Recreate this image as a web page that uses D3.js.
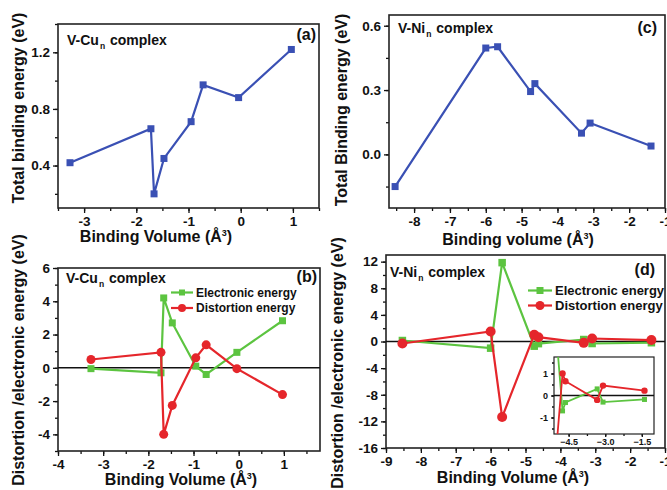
<!DOCTYPE html>
<html><head><meta charset="utf-8">
<script src="https://cdn.jsdelivr.net/npm/d3@7"></script>
<style>
body{margin:0;background:#fff;}
svg{display:block;font-family:"Liberation Sans",Arial,sans-serif;font-weight:bold;}
</style></head><body>
<svg id="c" width="667" height="490"></svg>
<script>
// ---- data ----
const cuVolume   = [-3.27, -1.72, -1.66, -1.47, -0.95, -0.72, -0.04, 0.97];
const cuTotal    = [0.42, 0.66, 0.20, 0.45, 0.71, 0.97, 0.88, 1.22];
const cuElectronic = [-0.05, -0.30, 4.20, 2.70, 0.10, -0.40, 0.93, 2.83];
const cuDistortion = [0.50, 0.93, -4.00, -2.26, 0.60, 1.38, -0.05, -1.61];

const niVolume   = [-8.53, -6.00, -5.67, -4.75, -4.63, -3.33, -3.09, -1.39];
const niTotal    = [-0.15, 0.496, 0.502, 0.293, 0.33, 0.099, 0.146, 0.039];
const niElectronic = [0.15, -1.00, 11.85, -0.70, -0.32, 0.30, -0.30, -0.18];
const niDistortion = [-0.30, 1.50, -11.35, 1.00, 0.65, -0.20, 0.45, 0.22];

const ticksA = {x:[-3,-2,-1,0,1], y:[0.4,0.8,1.2]};
const ticksB = {x:[-4,-3,-2,-1,0,1], y:[-4,-2,0,2,4,6]};
const ticksC = {x:[-8,-7,-6,-5,-4,-3,-2,-1], y:[0.0,0.3,0.6]};
const ticksD = {x:[-9,-8,-7,-6,-5,-4,-3,-2,-1], y:[-16,-12,-8,-4,0,4,8,12]};
const ticksInset = {x:[-4.5,-3.0,-1.5], y:[-1,0,1]};

const BLUE="#3a50b4", GREEN="#5cc440", RED="#e5262b";
const svg = d3.select("#c");

function frame(g, cfg){
  const x = d3.scaleLinear().domain(cfg.xd).range([cfg.x0,cfg.x1]);
  const y = d3.scaleLinear().domain(cfg.yd).range([cfg.y1,cfg.y0]);
  const fs = cfg.fs || 13.5;
  const xb = g.append("g").attr("transform",`translate(0,${cfg.y1})`)
    .call(d3.axisBottom(x).tickValues(cfg.xminor).tickSize(cfg.minorLen||3).tickFormat(""));
  const yb = g.append("g").attr("transform",`translate(${cfg.x0},0)`)
    .call(d3.axisLeft(y).tickValues(cfg.yminor).tickSize(cfg.minorLen||3).tickFormat(""));
  const xa = g.append("g").attr("transform",`translate(0,${cfg.y1})`)
    .call(d3.axisBottom(x).tickValues(cfg.xt).tickSize(cfg.majorLen||5).tickPadding(cfg.xpad||3).tickFormat(cfg.xf||(d=>d)));
  const ya = g.append("g").attr("transform",`translate(${cfg.x0},0)`)
    .call(d3.axisLeft(y).tickValues(cfg.yt).tickSize(cfg.majorLen||5).tickPadding(cfg.ypad||3).tickFormat(cfg.yf||(d=>d)));
  [xb,yb,xa,ya].forEach(a=>{
    a.select(".domain").remove();
    a.selectAll("line").attr("stroke","#111").attr("stroke-width",1.3);
    a.selectAll("text").attr("fill","#111").style("font-size",fs+"px").style("font-weight","bold")
      .style("font-family","'Liberation Sans',Arial,sans-serif");
  });
  g.append("rect").attr("x",cfg.x0).attr("y",cfg.y0).attr("width",cfg.x1-cfg.x0).attr("height",cfg.y1-cfg.y0)
    .attr("fill","none").attr("stroke","#222").attr("stroke-width",cfg.fw||1.6);
  return {x,y};
}

function series(g, s, xs, ys, color, shape, size, lw, clip){
  const gg = g.append("g");
  if(clip) gg.attr("clip-path",`url(#${clip})`);
  const pts = xs.map((v,i)=>[s.x(v), s.y(ys[i])]);
  gg.append("path").attr("d", d3.line()(pts)).attr("fill","none").attr("stroke",color).attr("stroke-width",lw);
  pts.forEach(p=>{
    if(shape==="sq") gg.append("rect").attr("x",p[0]-size/2).attr("y",p[1]-size/2).attr("width",size).attr("height",size).attr("fill",color);
    else gg.append("circle").attr("cx",p[0]).attr("cy",p[1]).attr("r",size).attr("fill",color);
  });
}

function label(g, x, y, main, sub, rest, fs){
  const t = g.append("text").attr("x",x).attr("y",y).style("font-size",fs+"px").attr("fill","#111");
  t.append("tspan").text(main);
  t.append("tspan").text(sub).attr("dy",4).attr("dx",1).style("font-size","8.5px");
  t.append("tspan").text(rest).attr("dy",-4).attr("dx",1);
}
function txt(g,x,y,s,fs,anchor,rot){
  const t = g.append("text").attr("fill","#111").style("font-size",fs+"px").attr("text-anchor",anchor||"start");
  if(rot) t.attr("transform",`translate(${x},${y}) rotate(-90)`); else t.attr("x",x).attr("y",y);
  return t.text(s);
}
function xtitle(g,x,y,s1){
  const t = g.append("text").attr("x",x).attr("y",y).attr("text-anchor","middle").attr("fill","#111").style("font-size","16px");
  t.append("tspan").text(s1+" (Å");
  t.append("tspan").text("3").attr("dy",-6).style("font-size","9px");
  t.append("tspan").text(")").attr("dy",6);
}
function legend(g,x0,x1,y,color,shape,size,text,fs){
  g.append("line").attr("x1",x0).attr("x2",x1).attr("y1",y).attr("y2",y).attr("stroke",color).attr("stroke-width",2.2);
  const cx=(x0+x1)/2;
  if(shape==="sq") g.append("rect").attr("x",cx-size/2).attr("y",y-size/2).attr("width",size).attr("height",size).attr("fill",color);
  else g.append("circle").attr("cx",cx).attr("cy",y).attr("r",size).attr("fill",color);
  txt(g,x1+3,y+4,text,fs);
}
const range=(a,b,s)=>d3.range(Math.round((b-a)/s)+1).map(i=>+(a+i*s).toFixed(3));

// ---- panel (a) ----
const gA = svg.append("g");
const sA = frame(gA,{x0:58,x1:319,y0:24,y1:208,xd:[-3.5,1.5],yd:[0.1,1.4],
  xt:ticksA.x, yt:ticksA.y, xminor:range(-3.5,1.5,0.5), yminor:range(0.2,1.4,0.2), yf:d3.format(".1f")});
series(gA,sA,cuVolume,cuTotal,BLUE,"sq",7,2.2);
label(gA,67,45,"V-Cu","n"," complex",14);
txt(gA,316,40,"(a)",16,"end");
txt(gA,24,108,"Total binding energy (eV)",16,"middle",true);
xtitle(gA,156,242,"Binding Volume");

// ---- panel (b) ----
const gB = svg.append("g");
const sB = frame(gB,{x0:58,x1:320,y0:268,y1:451,xd:[-4,1.8],yd:[-5,6],
  xt:ticksB.x, yt:ticksB.y, xminor:range(-4,1.5,0.5), yminor:range(-5,6,1)});
gB.append("line").attr("x1",58).attr("x2",320).attr("y1",sB.y(0)).attr("y2",sB.y(0)).attr("stroke","#111").attr("stroke-width",1.6);
series(gB,sB,cuVolume,cuElectronic,GREEN,"sq",7,2.2);
series(gB,sB,cuVolume,cuDistortion,RED,"ci",4.5,2.2);
label(gB,66,283,"V-Cu","n"," complex",14);
txt(gB,317,282,"(b)",16,"end");
legend(gB,171,193,292.5,GREEN,"sq",6,"Electronic energy",12);
legend(gB,171,193,308,RED,"ci",4,"Distortion energy",12);
txt(gB,24,360,"Distortion /electronic energy (eV)",16,"middle",true);
xtitle(gB,181,485,"Binding Volume");

// ---- panel (c) ----
const gC = svg.append("g");
const sC = frame(gC,{x0:389,x1:665,y0:15,y1:208,xd:[-8.7,-1],yd:[-0.25,0.65],
  xt:ticksC.x, yt:ticksC.y, xminor:range(-8.5,-1,0.5), yminor:range(-0.15,0.6,0.15), yf:d3.format(".1f")});
series(gC,sC,niVolume,niTotal,BLUE,"sq",7,2.2);
label(gC,398,33,"V-Ni","n"," complex",14);
txt(gC,657,33,"(c)",16,"end");
txt(gC,347,110,"Total Binding energy (eV)",16,"middle",true);
xtitle(gC,518,245,"Binding volume");

// ---- panel (d) ----
const gD = svg.append("g");
const sD = frame(gD,{x0:386,x1:665,y0:255,y1:448,xd:[-9,-1],yd:[-16,13],
  xt:ticksD.x, yt:ticksD.y, xminor:range(-9,-1,0.5), yminor:range(-16,12,2)});
gD.append("line").attr("x1",386).attr("x2",665).attr("y1",sD.y(0)).attr("y2",sD.y(0)).attr("stroke","#111").attr("stroke-width",1.6);
series(gD,sD,niVolume,niElectronic,GREEN,"sq",7.5,2.2);
series(gD,sD,niVolume,niDistortion,RED,"ci",5,2.2);
label(gD,390,277,"V-Ni","n"," complex",14);
txt(gD,655,275,"(d)",16,"end");
legend(gD,528,552,290.5,GREEN,"sq",7,"Electronic energy",13);
legend(gD,528,552,305.5,RED,"ci",4.5,"Distortion energy",13);
txt(gD,343,363,"Distortion /electronic energy (eV)",16,"middle",true);
xtitle(gD,513,483,"Binding Volume");

// ---- inset ----
const gI = svg.append("g");
gI.append("rect").attr("x",554).attr("y",357).attr("width",100).attr("height",77).attr("fill","#fff");
svg.append("defs").append("clipPath").attr("id","ic").append("rect").attr("x",554).attr("y",357).attr("width",100).attr("height",77);
const sI = frame(gI,{x0:554,x1:654,y0:357,y1:434,xd:[-5.1,-1.0],yd:[-1.75,1.75],fs:9,majorLen:3,minorLen:2,xpad:2,ypad:3,fw:1.2,
  xt:ticksInset.x, yt:ticksInset.y, xminor:range(-5.25,-1.5,0.75).filter(v=>v>=-5.1), yminor:range(-1.5,1.5,0.5), xf:d3.format(".1f")});
gI.append("line").attr("x1",554).attr("x2",654).attr("y1",sI.y(0)).attr("y2",sI.y(0)).attr("stroke","#111").attr("stroke-width",1.3);
series(gI,sI,niVolume,niElectronic,GREEN,"sq",5,1.8,"ic");
series(gI,sI,niVolume,niDistortion,RED,"ci",3.2,1.8,"ic");
</script></body></html>
